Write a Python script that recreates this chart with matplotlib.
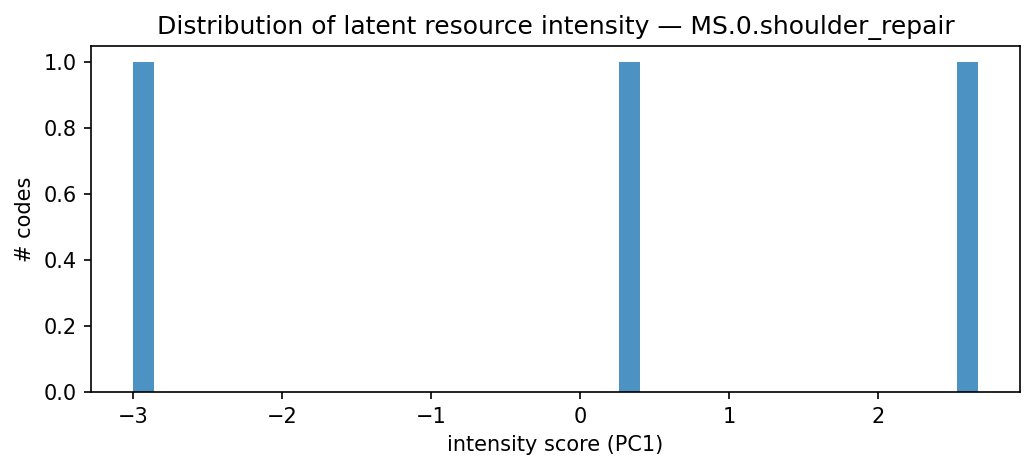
import matplotlib
matplotlib.use("Agg")
import matplotlib.pyplot as plt

scores = [-3.0, 0.33, 2.67]
n_bins = 40

fig = plt.figure(figsize=(1036/150, 470/150), dpi=150)
ax = fig.add_axes([91/1036, 1-392/470, (1020-91)/1036, (392-46)/470])
ax.hist(scores, bins=n_bins, color="tab:blue", alpha=0.8)
ax.set_title("Distribution of latent resource intensity — MS.0.shoulder_repair")
ax.set_xlabel("intensity score (PC1)")
ax.set_ylabel("# codes")
fig.savefig("out.png", dpi=150)
